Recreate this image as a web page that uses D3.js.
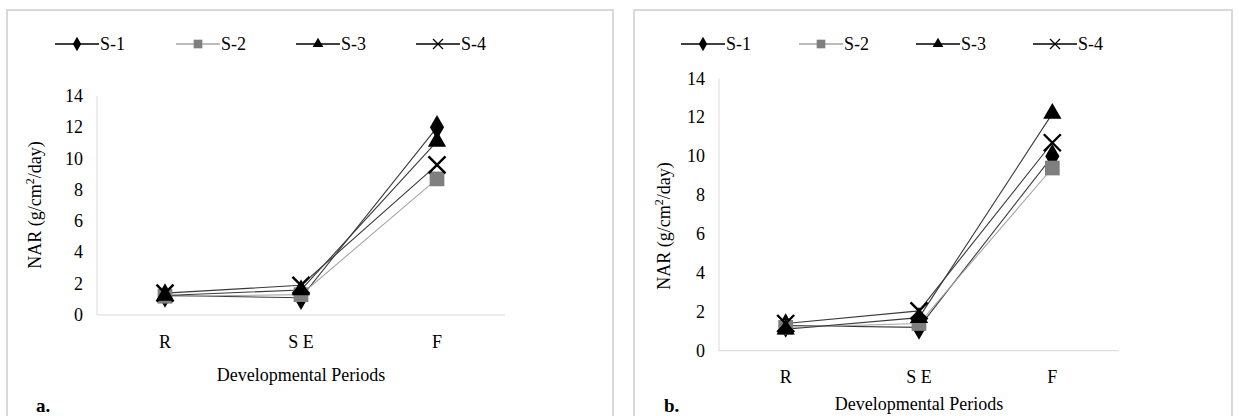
<!DOCTYPE html>
<html>
<head>
<meta charset="utf-8">
<script src="https://cdn.jsdelivr.net/npm/d3@7"></script>
<style>
  body { margin: 0; background: #fff; }
</style>
</head>
<body>
<div id="chart"></div>
<script>
// categories and tick values
const periods = ["R", "S E", "F"];
const yTicks = [0, 2, 4, 6, 8, 10, 12, 14];
const seriesNames = ["S-1", "S-2", "S-3", "S-4"];

// panel a values (NAR) for R, SE, F
const aS1 = [1.25, 1.1, 12.0];
const aS2 = [1.2, 1.3, 8.7];
const aS3 = [1.25, 1.6, 11.1];
const aS4 = [1.4, 1.9, 9.6];

// panel b values
const bS1 = [1.3, 1.2, 10.0];
const bS2 = [1.2, 1.4, 9.4];
const bS3 = [1.1, 1.7, 12.2];
const bS4 = [1.4, 2.05, 10.7];

const width = 1239, height = 416;
const serif = "'Liberation Serif', 'Times New Roman', serif";

const svg = d3.select("#chart").append("svg")
    .attr("width", width)
    .attr("height", height)
    .attr("font-family", serif);

// marker style per series
const styles = [
    { line: "#3a3a3a", fill: "#000", shape: "diamond" },
    { line: "#a6a6a6", fill: "#7f7f7f", shape: "square" },
    { line: "#3a3a3a", fill: "#000", shape: "triangle" },
    { line: "#3a3a3a", fill: "#000", shape: "x" }
];

function drawMarker(g, shape, x, y, s, color) {
    if (shape === "x") {
        const h = s / 2;
        g.append("path")
            .attr("d", `M${x - h},${y - h}L${x + h},${y + h}M${x - h},${y + h}L${x + h},${y - h}`)
            .attr("stroke", color)
            .attr("stroke-width", s > 10 ? 2.4 : 1.2)
            .attr("fill", "none");
        return;
    }
    let type = d3.symbolDiamond, area = s * s * 0.6;
    if (shape === "square") { type = d3.symbolSquare; area = s * s * 0.75; }
    if (shape === "triangle") { type = d3.symbolTriangle; area = s * s * 0.5; }
    g.append("path")
        .attr("d", d3.symbol().type(type).size(area)())
        .attr("transform", `translate(${x},${y})`)
        .attr("fill", color);
}

function drawPanel(p) {
    const g = svg.append("g");

    // panel border
    g.append("rect")
        .attr("x", p.box[0]).attr("y", p.box[1])
        .attr("width", p.box[2]).attr("height", p.box[3])
        .attr("fill", "none")
        .attr("stroke", "#d9d9d9")
        .attr("stroke-width", 2);

    const x = d3.scaleBand().domain(periods).range([p.left, p.right]);
    const y = d3.scaleLinear().domain([0, 14]).range([p.bottom, p.top]);

    // axes lines
    g.append("line")
        .attr("x1", p.left).attr("x2", p.left)
        .attr("y1", y(14)).attr("y2", y(0))
        .attr("stroke", "#d9d9d9");
    g.append("line")
        .attr("x1", p.left).attr("x2", p.right)
        .attr("y1", y(0)).attr("y2", y(0))
        .attr("stroke", "#d9d9d9");

    // y tick labels
    g.selectAll(".ytick").data(yTicks).enter().append("text")
        .attr("x", p.left - 14)
        .attr("y", d => y(d) + 6)
        .attr("text-anchor", "end")
        .attr("font-size", 18)
        .text(d => d);

    // x tick labels
    g.selectAll(".xtick").data(periods).enter().append("text")
        .attr("x", d => x(d) + x.bandwidth() / 2)
        .attr("y", p.xTickY)
        .attr("text-anchor", "middle")
        .attr("font-size", 18)
        .text(d => d);

    // axis titles
    g.append("text")
        .attr("x", (p.left + p.right) / 2)
        .attr("y", p.xTitleY)
        .attr("text-anchor", "middle")
        .attr("font-size", 18)
        .text("Developmental Periods");

    const yt = g.append("text")
        .attr("transform", `translate(${p.yTitleX},${p.yTitleY}) rotate(-90)`)
        .attr("text-anchor", "middle")
        .attr("font-size", 18);
    yt.append("tspan").text("NAR (g/cm");
    yt.append("tspan").attr("font-size", 12).attr("dy", -7).text("2");
    yt.append("tspan").attr("dy", 7).text("/day)");

    // panel letter
    g.append("text")
        .attr("x", p.letterX).attr("y", 412)
        .attr("font-size", 19)
        .attr("font-weight", "bold")
        .text(p.letter);

    // series lines
    const line = d3.line()
        .x((d, i) => x(periods[i]) + x.bandwidth() / 2)
        .y(d => y(d));

    p.series.forEach((vals, k) => {
        g.append("path")
            .datum(vals)
            .attr("d", line)
            .attr("fill", "none")
            .attr("stroke", styles[k].line)
            .attr("stroke-width", 1.1);
    });

    // markers
    p.series.forEach((vals, k) => {
        const mk = g.append("g");
        vals.forEach((v, i) => {
            drawMarker(mk, styles[k].shape, x(periods[i]) + x.bandwidth() / 2, y(v), 17, styles[k].fill);
        });
    });

    // legend
    seriesNames.forEach((name, k) => {
        const lx = p.legendX[k];
        const lg = g.append("g");
        lg.append("line")
            .attr("x1", lx).attr("x2", lx + 44)
            .attr("y1", p.legendY).attr("y2", p.legendY)
            .attr("stroke", k === 1 ? "#a6a6a6" : "#000")
            .attr("stroke-width", 1.3);
        drawMarker(lg, styles[k].shape, lx + 22, p.legendY, 10, styles[k].fill);
        lg.append("text")
            .attr("x", lx + 45)
            .attr("y", p.legendY + 6)
            .attr("font-size", 18)
            .text(name);
    });
}

drawPanel({
    box: [7, 10, 606, 420],
    left: 97, right: 505, top: 96, bottom: 315,
    xTickY: 348, xTitleY: 381, yTitleX: 41, yTitleY: 205,
    letter: "a.", letterX: 36,
    legendX: [55, 176, 296, 416], legendY: 44,
    series: [aS1, aS2, aS3, aS4]
});

drawPanel({
    box: [634, 10, 598, 420],
    left: 719, right: 1119, top: 78.6, bottom: 350.7,
    xTickY: 383, xTitleY: 410, yTitleX: 670, yTitleY: 226,
    letter: "b.", letterX: 664,
    legendX: [681, 799, 916, 1033], legendY: 44,
    series: [bS1, bS2, bS3, bS4]
});
</script>
</body>
</html>
